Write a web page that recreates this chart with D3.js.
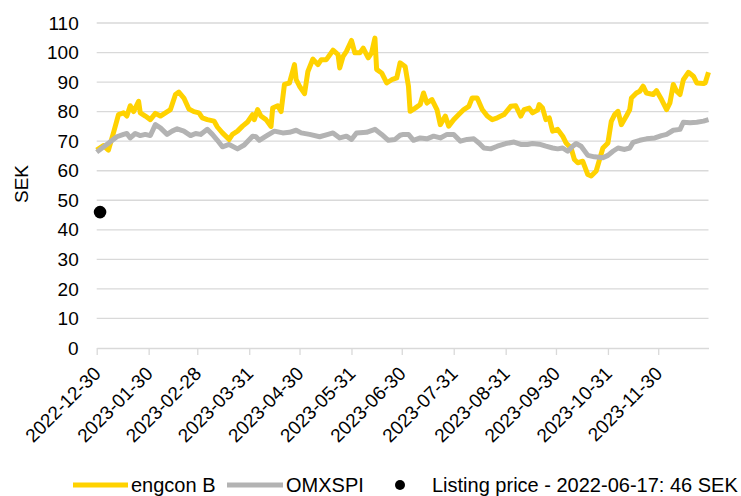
<!DOCTYPE html>
<html>
<head>
<meta charset="utf-8">
<script src="https://cdn.jsdelivr.net/npm/d3@7"></script>
<style>
  body { margin: 0; background: #fff; }
  text { font-family: "Liberation Sans", Arial, sans-serif; fill: #000; }
</style>
</head>
<body>
<div id="chart"></div>
<script>
// engcon B share price, SEK
const engcon = [
  ["2022-12-30", 67], ["2023-01-03", 68.5], ["2023-01-06", 67], ["2023-01-09", 72.8],
  ["2023-01-12", 79], ["2023-01-15", 79.6], ["2023-01-17", 78.5], ["2023-01-19", 82],
  ["2023-01-21", 80], ["2023-01-24", 83.5], ["2023-01-25", 79.6], ["2023-01-28", 78.5],
  ["2023-01-31", 77.3], ["2023-02-03", 79.4], ["2023-02-06", 78.5], ["2023-02-09", 79.6],
  ["2023-02-12", 80.7], ["2023-02-15", 85.8], ["2023-02-17", 86.6], ["2023-02-20", 84.6],
  ["2023-02-23", 80.9], ["2023-02-26", 80], ["2023-03-01", 79.6], ["2023-03-03", 77.9],
  ["2023-03-06", 77.3], ["2023-03-10", 76.8], ["2023-03-12", 74.8], ["2023-03-15", 72.8],
  ["2023-03-19", 70.6], ["2023-03-21", 72.3], ["2023-03-24", 73.4], ["2023-03-27", 75.1],
  ["2023-03-30", 76.5], ["2023-04-02", 79], ["2023-04-03", 77.3], ["2023-04-05", 80.7],
  ["2023-04-07", 78.5], ["2023-04-10", 77.3], ["2023-04-13", 75], ["2023-04-14", 81.2],
  ["2023-04-17", 82], ["2023-04-19", 80], ["2023-04-21", 89.2], ["2023-04-24", 89.7],
  ["2023-04-27", 95.9], ["2023-04-28", 90.8], ["2023-04-30", 88.6], ["2023-05-03", 86.1],
  ["2023-05-05", 93.6], ["2023-05-08", 97.8], ["2023-05-11", 95.9], ["2023-05-13", 97.6],
  ["2023-05-16", 97.6], ["2023-05-20", 100.8], ["2023-05-23", 99.3], ["2023-05-24", 94.8],
  ["2023-05-26", 98.7], ["2023-05-28", 100.4], ["2023-05-31", 104.1], ["2023-06-02", 99.9],
  ["2023-06-05", 99.9], ["2023-06-07", 101.5], ["2023-06-10", 98.2], ["2023-06-12", 99.9],
  ["2023-06-14", 104.9], ["2023-06-15", 94.3], ["2023-06-18", 93.1], ["2023-06-21", 89.7],
  ["2023-06-24", 90.8], ["2023-06-27", 91.4], ["2023-06-29", 96.5], ["2023-07-02", 95.3],
  ["2023-07-04", 88.6], ["2023-07-05", 80.1], ["2023-07-08", 81.2], ["2023-07-11", 82.4],
  ["2023-07-13", 86.3], ["2023-07-15", 82.9], ["2023-07-18", 84.1], ["2023-07-21", 80.7],
  ["2023-07-23", 75.6], ["2023-07-26", 78.5], ["2023-07-28", 75.1], ["2023-07-31", 77.3],
  ["2023-08-03", 79], ["2023-08-06", 80.7], ["2023-08-09", 81.8], ["2023-08-11", 84.6],
  ["2023-08-14", 84.6], ["2023-08-17", 80.7], ["2023-08-20", 78.5], ["2023-08-23", 77.3],
  ["2023-08-26", 77.9], ["2023-08-30", 79], ["2023-09-03", 81.8], ["2023-09-06", 82],
  ["2023-09-09", 78.5], ["2023-09-11", 80.7], ["2023-09-14", 81.2], ["2023-09-16", 79.6],
  ["2023-09-19", 80.5], ["2023-09-20", 82.4], ["2023-09-22", 81.2], ["2023-09-24", 77.3],
  ["2023-09-26", 77.9], ["2023-09-28", 73.4], ["2023-10-01", 74], ["2023-10-04", 71.7],
  ["2023-10-06", 69.4], ["2023-10-09", 67.7], ["2023-10-11", 63.8], ["2023-10-13", 62.7],
  ["2023-10-16", 63.2], ["2023-10-19", 58.7], ["2023-10-21", 58.2], ["2023-10-24", 59.9],
  ["2023-10-26", 63.8], ["2023-10-28", 67.7], ["2023-10-31", 69.4], ["2023-11-02", 76.7],
  ["2023-11-04", 79], ["2023-11-06", 80.1], ["2023-11-08", 75.6], ["2023-11-11", 78.5],
  ["2023-11-13", 80.7], ["2023-11-14", 84.6], ["2023-11-17", 86.3], ["2023-11-19", 86.9],
  ["2023-11-21", 88.6], ["2023-11-23", 86.3], ["2023-11-27", 85.8], ["2023-11-29", 87.1],
  ["2023-12-02", 84.1], ["2023-12-05", 80.7], ["2023-12-07", 83], ["2023-12-09", 89.2],
  ["2023-12-11", 86.9], ["2023-12-13", 85.8], ["2023-12-15", 90.8], ["2023-12-18", 93.3],
  ["2023-12-21", 92], ["2023-12-23", 89.7], ["2023-12-27", 89.5], ["2023-12-28", 89.7],
  ["2023-12-30", 93.3]
];

// OMXSPI, rebased to SEK
const omxspi = [
  ["2022-12-30", 66.3], ["2023-01-05", 68.9], ["2023-01-11", 71.5], ["2023-01-15", 72.3],
  ["2023-01-17", 72.6], ["2023-01-19", 71.1], ["2023-01-22", 72.6], ["2023-01-25", 71.9],
  ["2023-01-28", 72.3], ["2023-01-31", 71.9], ["2023-02-03", 75.6], ["2023-02-06", 74.5],
  ["2023-02-10", 72.3], ["2023-02-13", 73.4], ["2023-02-16", 74.2], ["2023-02-20", 73.4],
  ["2023-02-24", 71.9], ["2023-02-27", 72.6], ["2023-03-02", 72.3], ["2023-03-06", 74],
  ["2023-03-09", 72.3], ["2023-03-12", 70.3], ["2023-03-15", 68.1], ["2023-03-19", 68.9],
  ["2023-03-24", 67.4], ["2023-03-28", 68.7], ["2023-04-02", 71.7], ["2023-04-04", 71.5],
  ["2023-04-06", 70.3], ["2023-04-10", 71.7], ["2023-04-15", 73.4], ["2023-04-20", 72.8],
  ["2023-04-24", 73], ["2023-04-28", 73.7], ["2023-05-01", 72.8], ["2023-05-06", 72.3],
  ["2023-05-12", 71.5], ["2023-05-17", 72.3], ["2023-05-20", 72.8], ["2023-05-24", 71.1],
  ["2023-05-28", 71.7], ["2023-05-31", 70.6], ["2023-06-03", 72.8], ["2023-06-09", 73],
  ["2023-06-14", 74], ["2023-06-18", 72.3], ["2023-06-22", 70.3], ["2023-06-26", 70.6],
  ["2023-06-29", 72], ["2023-07-01", 72.3], ["2023-07-04", 72.3], ["2023-07-07", 70.3],
  ["2023-07-11", 71.1], ["2023-07-15", 70.8], ["2023-07-19", 71.7], ["2023-07-23", 71.1],
  ["2023-07-27", 72.3], ["2023-07-31", 72.3], ["2023-08-04", 70], ["2023-08-08", 70.6],
  ["2023-08-12", 70.8], ["2023-08-15", 69.4], ["2023-08-18", 67.7], ["2023-08-22", 67.4],
  ["2023-08-26", 68.3], ["2023-08-31", 69.2], ["2023-09-05", 69.7], ["2023-09-09", 68.9],
  ["2023-09-13", 68.9], ["2023-09-16", 69.2], ["2023-09-20", 69], ["2023-09-24", 68.3],
  ["2023-09-28", 67.7], ["2023-10-01", 67.4], ["2023-10-04", 67.7], ["2023-10-07", 66.6],
  ["2023-10-10", 68.3], ["2023-10-12", 69.2], ["2023-10-15", 68.3], ["2023-10-19", 65.2],
  ["2023-10-23", 64.7], ["2023-10-28", 64.4], ["2023-10-31", 65.2], ["2023-11-03", 66.6],
  ["2023-11-06", 67.7], ["2023-11-10", 67.2], ["2023-11-13", 67.7], ["2023-11-15", 69.6],
  ["2023-11-19", 70.3], ["2023-11-23", 70.8], ["2023-11-28", 71.1], ["2023-12-02", 71.9],
  ["2023-12-05", 72.3], ["2023-12-09", 73.7], ["2023-12-13", 74], ["2023-12-15", 76.4],
  ["2023-12-19", 76.2], ["2023-12-23", 76.4], ["2023-12-27", 76.8], ["2023-12-30", 77.3]
];

// listing price marker
const listing = { date: "2023-01-01", value: 46 };

const xTicks = ["2022-12-30", "2023-01-30", "2023-02-28", "2023-03-31", "2023-04-30", "2023-05-31",
  "2023-06-30", "2023-07-31", "2023-08-31", "2023-09-30", "2023-10-31", "2023-11-30"];
const yTicks = [0, 10, 20, 30, 40, 50, 60, 70, 80, 90, 100, 110];

const legendItems = ["engcon B", "OMXSPI", "Listing price - 2022-06-17: 46 SEK"];

const W = 741, H = 496;
const plot = { left: 96.7, right: 708.5, top: 23, bottom: 348 };
const yellow = "#ffd200", grey = "#b3b3b3", gridCol = "#d9d9d9";

const parse = d3.utcParse("%Y-%m-%d");

const svg = d3.select("#chart").append("svg")
  .attr("width", W)
  .attr("height", H)
  .style("background-color", "#fff");

const x = d3.scaleUtc()
  .domain([parse("2022-12-30"), parse("2023-12-30")])
  .range([plot.left, plot.right]);

const y = d3.scaleLinear()
  .domain([0, 110])
  .range([plot.bottom, plot.top]);

// horizontal grid
svg.append("g")
  .selectAll("line")
  .data(yTicks.filter(d => d > 0))
  .enter().append("line")
  .attr("x1", plot.left).attr("x2", plot.right)
  .attr("y1", d => y(d)).attr("y2", d => y(d))
  .style("stroke", gridCol)
  .style("stroke-width", 1.3);

// y axis labels
const yAxis = svg.append("g")
  .attr("transform", "translate(" + plot.left + ",0)")
  .call(d3.axisLeft(y).tickValues(yTicks).tickSize(0).tickPadding(18));
yAxis.select(".domain").remove();
yAxis.selectAll("text")
  .style("font-size", "19px")
  .style("font-family", "'Liberation Sans', Arial, sans-serif");

// x axis with rotated dates
const xAxis = svg.append("g")
  .attr("transform", "translate(0," + plot.bottom + ")")
  .call(d3.axisBottom(x)
    .tickValues(xTicks.map(parse))
    .tickSize(7)
    .tickSizeOuter(0)
    .tickFormat(d3.utcFormat("%Y-%m-%d")));
xAxis.select(".domain").style("stroke", gridCol).style("stroke-width", 1.3);
xAxis.selectAll(".tick line").style("stroke", gridCol).style("stroke-width", 1.3);
xAxis.selectAll("text")
  .style("font-size", "19px")
  .style("font-family", "'Liberation Sans', Arial, sans-serif")
  .style("text-anchor", "end")
  .attr("x", 0).attr("y", 0).attr("dy", "0.35em")
  .attr("transform", "translate(0,22) rotate(-45)");

// y axis title
svg.append("text")
  .attr("transform", "translate(28,184) rotate(-90)")
  .style("text-anchor", "middle")
  .style("font-size", "19px")
  .text("SEK");

const line = d3.line()
  .x(d => x(parse(d[0])))
  .y(d => y(d[1]));

svg.append("path")
  .datum(engcon)
  .attr("d", line)
  .style("fill", "none")
  .style("stroke", yellow)
  .style("stroke-width", 5)
  .style("stroke-linejoin", "round");

svg.append("path")
  .datum(omxspi)
  .attr("d", line)
  .style("fill", "none")
  .style("stroke", grey)
  .style("stroke-width", 5)
  .style("stroke-linejoin", "round");

svg.append("circle")
  .attr("cx", x(parse(listing.date)))
  .attr("cy", y(listing.value))
  .attr("r", 6.3)
  .style("fill", "#000");

// legend
const lg = svg.append("g").attr("transform", "translate(0,485)");
lg.append("line").attr("x1", 73).attr("x2", 128).style("stroke", yellow).style("stroke-width", 5);
lg.append("text").attr("x", 131).attr("dy", "0.35em").style("font-size", "20px").text(legendItems[0]);
lg.append("line").attr("x1", 227).attr("x2", 283).style("stroke", grey).style("stroke-width", 5);
lg.append("text").attr("x", 286).attr("dy", "0.35em").style("font-size", "20px").text(legendItems[1]);
lg.append("circle").attr("cx", 400).attr("r", 5).style("fill", "#000");
lg.append("text").attr("x", 432).attr("dy", "0.35em").style("font-size", "20px").text(legendItems[2]);
</script>
</body>
</html>
